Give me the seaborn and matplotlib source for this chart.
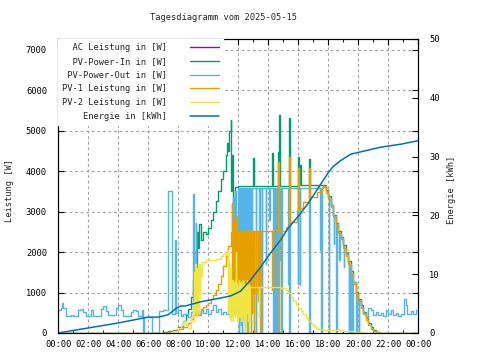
import matplotlib
matplotlib.use("Agg")
import matplotlib.pyplot as plt
import matplotlib.ticker as mticker
import seaborn as sns

# ---- data (time "HH:MM", value) ----
energy_pts = [("00:00", 0), ("02:00", 0.85), ("04:00", 1.7), ("06:00", 2.7), ("06:40", 2.7),
              ("07:20", 3.1), ("07:50", 4.1), ("08:10", 4.6), ("08:30", 4.6), ("09:30", 5.3),
              ("10:50", 5.95), ("11:30", 6.3), ("12:10", 7.1), ("12:50", 9.0), ("13:30", 11.2),
              ("14:10", 13.6), ("14:50", 15.8), ("15:20", 17.8), ("16:00", 19.8), ("16:40", 22.0),
              ("17:20", 24.6), ("18:00", 27.2), ("18:20", 28.3), ("18:50", 29.3), ("19:30", 30.4),
              ("20:10", 30.8), ("21:30", 31.6), ("22:50", 32.1), ("24:00", 32.7)]

out_pts = [("00:00", 560), ("00:10", 620), ("00:15", 750), ("00:20", 620), ("00:30", 430),
           ("00:50", 440), ("01:00", 420), ("01:20", 560), ("01:30", 590), ("01:40", 520),
           ("01:50", 430), ("02:10", 560), ("02:20", 430), ("02:50", 600), ("03:00", 660),
           ("03:10", 540), ("03:20", 440), ("03:50", 610), ("04:00", 700), ("04:10", 560),
           ("04:20", 430), ("04:50", 520), ("05:00", 580), ("05:10", 540), ("05:20", 430),
           ("05:35", 560), ("05:40", 0), ("05:42", 400), ("06:15", 0), ("06:45", 540),
           ("07:00", 560), ("07:20", 3500), ("07:35", 480), ("07:47", 2300), ("07:50", 500),
           ("08:00", 560), ("08:10", 420), ("08:20", 480), ("08:40", 400), ("08:50", 520),
           ("09:00", 3430), ("09:04", 480), ("09:10", 2720), ("09:12", 500), ("09:20", 440),
           ("09:30", 560), ("09:40", 500), ("09:50", 600), ("10:00", 480), ("10:10", 560),
           ("10:20", 700), ("10:30", 520), ("10:40", 600), ("10:50", 480), ("11:00", 520),
           ("11:10", 460), ("11:20", 680), ("11:30", 480), ("11:40", 3360), ("11:42", 500),
           ("11:48", 3500), ("11:50", 600), ("11:55", 2000), ("11:57", 500), ("12:00", 3580),
           ("12:02", 0), ("12:04", 3580), ("12:06", 1500), ("12:08", 3580), ("12:10", 200),
           ("12:12", 3580), ("12:14", 0), ("12:16", 3580), ("12:18", 2400), ("12:20", 3580),
           ("12:22", 600), ("12:24", 3580), ("12:26", 0), ("12:28", 3580), ("12:30", 1800),
           ("12:32", 3580), ("12:34", 300), ("12:36", 3580), ("12:38", 0), ("12:40", 3580),
           ("12:42", 2600), ("12:44", 3580), ("12:46", 900), ("12:48", 3580), ("12:50", 0),
           ("12:52", 3580), ("12:54", 1600), ("12:56", 3580), ("13:10", 0), ("13:12", 3580),
           ("13:25", 1000), ("13:27", 3580), ("13:35", 0), ("13:37", 3580), ("13:50", 1700),
           ("13:52", 3580), ("14:05", 2800), ("14:07", 3580), ("14:20", 0), ("14:22", 3580),
           ("14:24", 1600), ("14:26", 3580), ("14:28", 0), ("14:30", 3580), ("14:32", 1800),
           ("14:34", 3580), ("14:36", 0), ("14:38", 3580), ("14:47", 1800), ("14:49", 3580),
           ("14:52", 0), ("14:54", 3580), ("15:20", 1200), ("15:22", 3580), ("15:25", 0),
           ("15:27", 3580), ("15:58", 1200), ("16:00", 3580), ("16:06", 1180), ("16:08", 3580),
           ("16:45", 0), ("16:47", 3580), ("17:28", 2050), ("17:30", 3580), ("17:32", 0),
           ("17:34", 3580), ("17:40", 3600), ("17:50", 3500), ("18:00", 3350), ("18:02", 0),
           ("18:04", 3300), ("18:10", 3150), ("18:20", 2900), ("18:22", 2200), ("18:24", 2900),
           ("18:30", 2700), ("18:32", 0), ("18:34", 2700), ("18:40", 2500), ("18:45", 1800),
           ("18:47", 2450), ("18:50", 2350), ("19:00", 2150), ("19:03", 1640), ("19:05", 2100),
           ("19:10", 1950), ("19:20", 1750), ("19:22", 0), ("19:24", 1700), ("19:26", 0),
           ("19:28", 1600), ("19:30", 1500), ("19:32", 0), ("19:34", 1450), ("19:36", 0),
           ("19:38", 1300), ("19:40", 1250), ("19:50", 1000), ("19:52", 0), ("19:54", 950),
           ("20:00", 820), ("20:02", 0), ("20:04", 800), ("20:10", 650), ("20:20", 500),
           ("20:30", 380), ("20:40", 620), ("20:50", 560), ("21:00", 450), ("21:10", 520),
           ("21:20", 440), ("21:30", 500), ("21:40", 430), ("21:50", 560), ("22:00", 480),
           ("22:10", 560), ("22:20", 440), ("22:30", 500), ("22:40", 420), ("22:50", 470),
           ("23:05", 850), ("23:10", 700), ("23:15", 480), ("23:30", 540), ("23:40", 480),
           ("23:50", 560), ("24:00", 560)]

in_pts = [("00:00", 0), ("06:50", 0), ("07:00", 20), ("07:20", 40), ("07:40", 80), ("08:00", 150),
          ("08:20", 300), ("08:30", 450), ("08:40", 600), ("08:50", 900), ("09:00", 1300),
          ("09:05", 2000), ("09:10", 1600), ("09:15", 2500), ("09:20", 2100), ("09:25", 2700),
          ("09:30", 2300), ("09:40", 2500), ("09:50", 2450), ("10:00", 2600), ("10:10", 2800),
          ("10:20", 3000), ("10:30", 3250), ("10:40", 3500), ("10:50", 3800), ("11:00", 4000),
          ("11:10", 4400), ("11:15", 4700), ("11:20", 4500), ("11:25", 5000), ("11:30", 5250),
          ("11:33", 3500), ("11:36", 4400), ("11:40", 3000), ("11:44", 1000), ("11:47", 3600),
          ("12:00", 3630), ("13:00", 4320), ("13:02", 3630), ("14:16", 4440), ("14:18", 3630),
          ("14:40", 4470), ("14:42", 3630), ("14:44", 5380), ("14:46", 3630), ("15:24", 5300),
          ("15:26", 3640), ("16:00", 4350), ("16:02", 3650), ("16:08", 4150), ("16:10", 3650),
          ("16:44", 4300), ("16:46", 3650), ("17:40", 3650), ("17:50", 3520), ("18:00", 3380),
          ("18:10", 3170), ("18:20", 2920), ("18:30", 2720), ("18:40", 2520), ("18:50", 2370),
          ("19:00", 2170), ("19:10", 1970), ("19:20", 1770), ("19:30", 1520), ("19:40", 1270),
          ("19:50", 1020), ("20:00", 850), ("20:10", 680), ("20:20", 530), ("20:30", 390),
          ("20:40", 250), ("20:50", 150), ("21:00", 70), ("21:10", 25), ("21:25", 0), ("24:00", 0)]

pv1_pts = [("00:00", 0), ("07:00", 0), ("07:20", 30), ("07:40", 60), ("08:00", 90), ("08:20", 150),
           ("08:40", 250), ("08:50", 350), ("09:00", 450), ("09:10", 550), ("09:20", 500),
           ("09:30", 600), ("09:40", 650), ("09:50", 700), ("10:00", 750), ("10:10", 850),
           ("10:20", 950), ("10:30", 1050), ("10:40", 1200), ("10:50", 1400), ("11:00", 1650),
           ("11:10", 1900), ("11:20", 2150), ("11:30", 2500), ("11:35", 3200), ("11:37", 1000),
           ("11:40", 2750), ("11:45", 900), ("11:50", 2900), ("11:55", 1200), ("12:00", 2520),
           ("12:02", 1100), ("12:04", 2520), ("12:06", 900), ("12:08", 2520), ("12:10", 1300),
           ("12:12", 2520), ("12:14", 300), ("12:16", 2520), ("12:18", 1000), ("12:20", 2520),
           ("12:22", 1200), ("12:24", 2520), ("12:26", 800), ("12:28", 2520), ("12:30", 1100),
           ("12:32", 2520), ("12:34", 0), ("12:36", 2520), ("12:38", 1000), ("12:40", 2520),
           ("12:42", 1200), ("12:44", 2520), ("12:46", 900), ("12:48", 2520), ("12:50", 1100),
           ("12:52", 2520), ("12:54", 500), ("12:56", 2520), ("12:58", 1000), ("13:00", 2520),
           ("13:02", 0), ("13:04", 2520), ("13:10", 1000), ("13:12", 2520), ("13:18", 800),
           ("13:20", 2520), ("13:28", 0), ("13:30", 2520), ("14:16", 1060), ("14:18", 2540),
           ("14:40", 4220), ("14:42", 0), ("14:44", 2540), ("14:50", 2520), ("15:10", 2620),
           ("15:24", 4350), ("15:26", 2700), ("15:30", 2740), ("15:55", 3040), ("16:00", 4070),
           ("16:02", 3080), ("16:20", 3230), ("16:44", 4070), ("16:46", 3340), ("16:50", 3360),
           ("17:15", 3480), ("17:35", 3600), ("17:40", 3620), ("17:50", 3460), ("18:00", 3320),
           ("18:10", 3110), ("18:20", 2860), ("18:30", 2660), ("18:40", 2460), ("18:50", 2310),
           ("19:00", 2110), ("19:10", 1910), ("19:20", 1710), ("19:30", 1460), ("19:40", 1210),
           ("19:50", 960), ("20:00", 790), ("20:10", 620), ("20:20", 470), ("20:30", 330),
           ("20:40", 200), ("20:50", 110), ("21:00", 50), ("21:10", 15), ("21:25", 0), ("24:00", 0)]

pv2_pts = [("00:00", 0), ("07:20", 0), ("07:30", 20), ("07:40", 50), ("08:00", 120), ("08:10", 200),
           ("08:20", 300), ("08:30", 200), ("08:40", 120), ("08:50", 400), ("09:00", 800),
           ("09:02", 300), ("09:04", 1500), ("09:06", 500), ("09:08", 1700), ("09:10", 600),
           ("09:12", 1400), ("09:14", 400), ("09:16", 1600), ("09:18", 700), ("09:20", 1500),
           ("09:22", 500), ("09:24", 1700), ("09:26", 900), ("09:28", 1600), ("09:30", 1400),
           ("09:35", 1750), ("09:50", 1800), ("10:30", 1820), ("10:50", 1900), ("11:00", 1950),
           ("11:10", 2000), ("11:15", 2050), ("11:20", 500), ("11:22", 1800), ("11:25", 400),
           ("11:28", 1600), ("11:30", 300), ("11:32", 1200), ("11:34", 500), ("11:36", 1300),
           ("11:38", 300), ("11:40", 1100), ("11:42", 600), ("11:44", 1250), ("11:46", 400),
           ("11:48", 1000), ("11:50", 2000), ("11:52", 500), ("11:54", 1200), ("11:56", 300),
           ("11:58", 1100), ("12:00", 700), ("12:02", 1300), ("12:04", 400), ("12:06", 1200),
           ("12:08", 600), ("12:10", 1250), ("12:12", 300), ("12:14", 1100), ("12:16", 500),
           ("12:18", 1300), ("12:20", 700), ("12:22", 1200), ("12:24", 400), ("12:26", 1100),
           ("12:28", 0), ("12:30", 1200), ("12:32", 600), ("12:34", 1300), ("12:36", 500),
           ("12:38", 1150), ("12:40", 300), ("12:42", 1200), ("12:44", 0), ("12:46", 1130),
           ("13:20", 1130), ("13:22", 400), ("13:24", 1130), ("14:50", 1120), ("15:00", 1100),
           ("15:10", 1060), ("15:20", 990), ("15:30", 900), ("15:40", 800), ("15:50", 700),
           ("16:00", 620), ("16:10", 550), ("16:20", 460), ("16:30", 380), ("16:40", 300),
           ("16:50", 230), ("17:00", 170), ("17:10", 120), ("17:20", 100), ("17:40", 80),
           ("18:00", 70), ("19:00", 50), ("19:40", 30), ("20:20", 10), ("20:50", 0), ("24:00", 0)]

x_ticks = list(range(0, 25, 2))
x_ticklabels = ["00:00", "02:00", "04:00", "06:00", "08:00", "10:00", "12:00",
                "14:00", "16:00", "18:00", "20:00", "22:00", "00:00"]


def split(pts):
    hrs = [int(t[:2]) + int(t[3:]) / 60 for t, _ in pts]
    vals = [v for _, v in pts]
    return hrs, vals


sns.set_theme(style="white")
plt.rcParams['font.family'] = ['DejaVu Sans Mono']
fs = 6.3

fig = plt.figure(figsize=(4.8, 3.6), dpi=100)
ax = fig.add_axes([58 / 480, 1 - 333 / 360, 360 / 480, 294 / 360])
ax2 = ax.twinx()

# name, data, colour, line width (AC sits underneath PV-Power-Out)
series = [("AC Leistung in [W]", out_pts, "#9400d3", 0.4),
          ("PV-Power-In in [W]", in_pts, "#009e73", 1.0),
          ("PV-Power-Out in [W]", out_pts, "#56b4e9", 1.0),
          ("PV-1 Leistung in [W]", pv1_pts, "#e69f00", 1.0),
          ("PV-2 Leistung in [W]", pv2_pts, "#f0e442", 1.0)]
for name, pts, col, lw in series:
    xs, ys = split(pts)
    sns.lineplot(x=xs, y=ys, ax=ax, color=col, linewidth=lw, drawstyle="steps-post",
                 estimator=None, sort=False, label=name.rjust(20))

ex, ey = split(energy_pts)
sns.lineplot(x=ex, y=ey, ax=ax2, color="#0072b2", linewidth=1.1, estimator=None, sort=False,
             label="Energie in [kWh]".rjust(20))

ax.set_xlim(0, 24)
ax.set_ylim(0, 7260)
ax2.set_ylim(0, 50)
ax.set_xticks(x_ticks)
ax.set_xticklabels(x_ticklabels, fontsize=fs)
ax.xaxis.set_minor_locator(mticker.MultipleLocator(1))
ax.set_yticks(range(0, 8000, 1000))
ax.set_yticklabels([str(v) for v in range(0, 8000, 1000)], fontsize=fs)
ax2.set_yticks(range(0, 60, 10))
ax2.set_yticklabels([str(v) for v in range(0, 60, 10)], fontsize=fs)

ax.tick_params(axis="both", which="major", direction="in", length=4, width=0.8,
               top=True, right=True, colors="black")
ax.tick_params(axis="x", which="minor", direction="in", length=2.5, width=0.8, top=True, bottom=True)
ax.tick_params(axis="x", pad=5)
ax.tick_params(axis="y", pad=8)
ax2.tick_params(axis="y", direction="in", length=4, width=0.8, pad=8, colors="black")

ax.grid(True, which="major", color="#a0a0a0", linestyle=(0, (2.5, 2.5)), linewidth=0.8)
ax.set_axisbelow(True)
ax2.grid(False)
for a in (ax, ax2):
    for sp in a.spines.values():
        sp.set_color("black")
        sp.set_linewidth(0.8)
ax.set_xlabel("")
ax.set_ylabel("")
ax2.set_ylabel("")

h1, l1 = ax.get_legend_handles_labels()
h2, l2 = ax2.get_legend_handles_labels()
if ax.get_legend() is not None:
    ax.get_legend().remove()
leg = ax2.legend(h1 + h2, l1 + l2, loc="upper left", bbox_to_anchor=(0, 1), borderaxespad=0,
                 fontsize=fs, markerfirst=False, handlelength=3.4, handletextpad=2.6,
                 labelspacing=0.55, borderpad=0.45, frameon=True, fancybox=False)
leg.get_frame().set_facecolor("white")
leg.get_frame().set_edgecolor("white")
leg.get_frame().set_alpha(1)
leg.legend_handles[0].set_linewidth(1.0)

fig.text(223 / 480, 1 - 18 / 360, "Tagesdiagramm vom 2025-05-15", ha="center", va="center", fontsize=fs)
fig.text(10 / 480, 1 - 190 / 360, "Leistung [W]", rotation=90, ha="center", va="center", fontsize=fs)
fig.text(452 / 480, 1 - 190 / 360, "Energie [kWh]", rotation=90, ha="center", va="center", fontsize=fs)

fig.savefig("out.png", dpi=100)
